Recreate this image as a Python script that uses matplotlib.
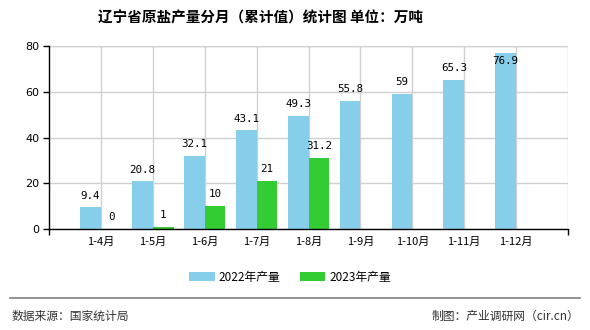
import matplotlib
matplotlib.use("Agg")
import matplotlib.pyplot as plt
from matplotlib.patches import Patch
import numpy as np

plt.rcParams['font.family'] = ['Noto Sans CJK SC', 'DejaVu Sans']

categories = ["1-4月", "1-5月", "1-6月", "1-7月", "1-8月", "1-9月", "1-10月", "1-11月", "1-12月"]
values_2022 = [9.4, 20.8, 32.1, 43.1, 49.3, 55.8, 59, 65.3, 76.9]
values_2023 = [0, 1, 10, 21, 31.2]
series_names = ["2022年产量", "2023年产量"]
yticks = [0, 20, 40, 60, 80]

c22 = "#87CEEB"
c23 = "#33CC33"

fig = plt.figure(figsize=(5.9, 3.3), dpi=100)
ax = fig.add_axes([49/590, 1-229/330, (568-49)/590, (229-46)/330])
ax.set_axisbelow(True)

x = np.arange(1, len(categories)+1)
w = 0.4
ax.bar(x[:len(values_2022)] - w/2, values_2022, width=w, color=c22, zorder=3)
ax.bar(x[:len(values_2023)] + w/2, values_2023, width=w, color=c23, zorder=3)

ymax = 80
def label(xp, v):
    y = v + 5.2
    if y > ymax - 1.5:
        y = v - 3.5
    s = f"{v:g}"
    ax.text(xp, y, s, ha="center", va="center", fontsize=7.8,
            family=["DejaVu Sans Mono"], zorder=4)

for xi, v in zip(x, values_2022):
    label(xi - w/2, v)
for xi, v in zip(x, values_2023):
    label(xi + w/2, v)

ax.set_xlim(0, 10)
ax.set_ylim(0, ymax)
ax.set_yticks(yticks)
ax.set_yticklabels([str(t) for t in yticks], fontsize=8, family=["DejaVu Sans"])
ax.set_xticks(x)
ax.set_xticklabels(categories, fontsize=8)
ax.tick_params(axis="x", length=0, pad=6)
ax.tick_params(axis="y", length=4, width=1, pad=3)
ax.set_xticks([0, 10], minor=True)
ax.tick_params(axis="x", which="minor", length=4, width=1)

ax.grid(True, which="major", color="#d0d0d0", linewidth=1, zorder=0)
ax.axvline(10, color="#d0d0d0", linewidth=1, zorder=0)
ax.axhline(80, color="#d0d0d0", linewidth=1, zorder=0)
for s in ["top", "right"]:
    ax.spines[s].set_visible(False)
for s in ["left", "bottom"]:
    ax.spines[s].set_color("black")
    ax.spines[s].set_linewidth(1)
    ax.spines[s].set_zorder(5)

fig.text(260/590, 1-18/330, "辽宁省原盐产量分月（累计值）统计图 单位：万吨",
         ha="center", va="center", fontsize=10.5, fontweight="bold")

handles = [Patch(facecolor=c22, edgecolor="none"), Patch(facecolor=c23, edgecolor="none")]
fig.legend(handles, series_names, loc="center", bbox_to_anchor=(290/590, 1-277/330),
           ncol=2, frameon=False, fontsize=8.5, handlelength=2.2, handleheight=0.9,
           columnspacing=1.6, handletextpad=0.3)

fig.add_artist(plt.Line2D([10/590, 580/590], [1-298/330, 1-298/330], color="#808080", linewidth=1.2))
fig.text(12/590, 1-316/330, "数据来源：国家统计局", ha="left", va="center", fontsize=8.5, color="#333333")
fig.text(579/590, 1-316/330, "制图：产业调研网（cir.cn）", ha="right", va="center", fontsize=8.5, color="#333333")

fig.savefig("out.png", dpi=100)
